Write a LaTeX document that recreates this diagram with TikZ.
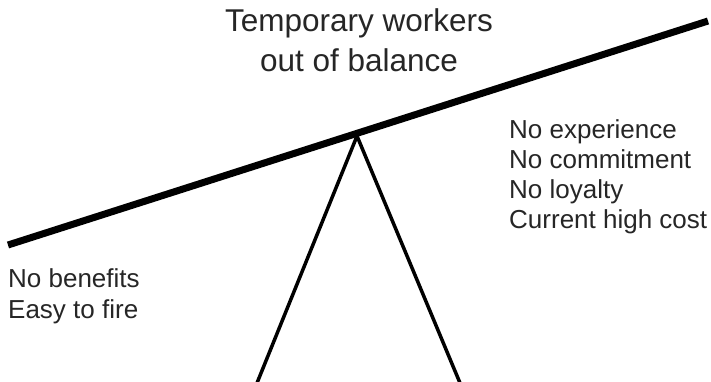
\documentclass[tikz,border=0pt]{standalone}
\usepackage{fontspec}
\setmainfont{Liberation Sans}
\begin{document}
\begin{tikzpicture}[x=1pt,y=-1pt,
  titletext/.style={font=\fontsize{31.5}{40}\selectfont, text=black!85, inner sep=0pt, anchor=base},
  sidetext/.style={font=\fontsize{26}{30}\selectfont, text=black!85, inner sep=0pt, anchor=base west},
  beamline/.style={line width=7pt, line cap=butt},
  legline/.style={line width=3.5pt, line join=miter}]
  \useasboundingbox[fill=white] (0,0) rectangle (711,381);

  % seesaw
  \coordinate (beamL) at (8,245);
  \coordinate (beamR) at (708,21);
  \coordinate (apex) at (357,136);
  \coordinate (footL) at (257,383);
  \coordinate (footR) at (460,383);
  \draw[legline] (footL) -- (apex) -- (footR);
  \draw[beamline] (beamL) -- (beamR);

  % title
  \node[titletext] (title1) at (359,31) {Temporary workers};
  \node[titletext] (title2) at (359,71) {out of balance};

  % right-hand list
  \node[sidetext] (r1) at (509,138) {No experience};
  \node[sidetext] (r2) at (509,168) {No commitment};
  \node[sidetext] (r3) at (509,198) {No loyalty};
  \node[sidetext] (r4) at (509,228) {Current high cost};

  % left-hand list
  \node[sidetext] (l1) at (8,287) {No benefits};
  \node[sidetext] (l2) at (8,318) {Easy to fire};
\end{tikzpicture}
\end{document}
